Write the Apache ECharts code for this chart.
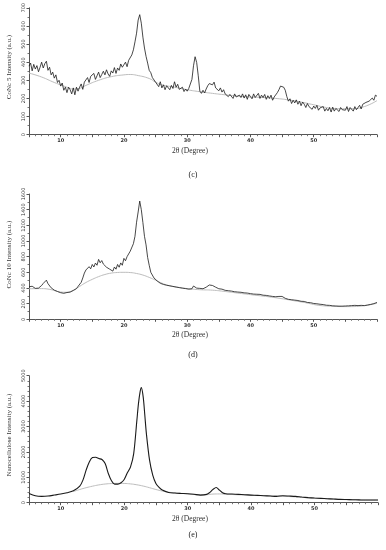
<!DOCTYPE html>
<html><head><meta charset="utf-8">
<script src="https://cdn.jsdelivr.net/npm/echarts@6/dist/echarts.min.js"></script>
<style>html,body{margin:0;padding:0;background:#fff}#c{width:386px;height:550px}</style>
</head><body><div id="c"></div>
<script>
// ---- data ----
// Panels (c) and (d): intensities sampled every 0.25 degree from 2θ = 5 to 60
const stepCD = 0.25, startCD = 5;
const conc5 = [
378,395,352,388, 362,381,347,372, 400,368,392,405, 355,372,330,345, 312,330,288,300,
268,285,245,262, 232,262,248,225, 258,220,262,240, 262,280,250,290, 295,315,288,322,
312,338,305,325, 345,315,332,350, 330,358,335,322, 352,340,370,338, 368,355,390,372,
380,400,375,410, 418,440,468,512, 560,632,662,615, 538,478,432,395, 355,342,315,325,
290,282,265,292, 258,275,248,270, 262,248,272,255, 292,262,278,250, 245,262,238,252,
240,255,250,305, 380,430,398,325, 240,228,245,230, 252,270,282,292, 275,290,258,268,
242,258,235,248, 225,235,210,222, 215,200,225,208, 198,218,205,225, 202,220,195,222,
210,198,225,205, 212,228,200,218, 205,222,195,215, 200,218,190,208, 215,232,248,268,
278,262,245,210, 185,198,172,190, 175,192,168,185, 160,180,168,150, 172,155,165,140,
158,145,162,135, 148,138,155,130, 145,132,150,125, 152,130,145,135, 128,150,138,145,
135,155,128,150, 140,130,155,138, 150,162,142,168, 160,178,168,185, 180,202,190,218,
212];
const conc10 = [
415,392,422,400, 395,412,398,420, 432,458,470,500, 455,430,402,395, 372,382,355,362,
340,350,332,345, 342,356,348,360, 368,385,392,420, 445,472,528,590, 630,605,672,645,
700,668,718,690, 765,722,750,705, 712,665,690,640, 655,615,668,640, 700,665,720,690,
778,748,800,790, 870,855,965,1060, 1240,1370,1510,1400, 1235,1060,950,790, 690,600,575,528,
518,490,482,460, 470,445,462,435, 450,428,445,420, 438,412,430,405, 420,398,415,392,
405,385,398,390, 425,402,398,380, 395,372,390,385, 410,420,438,415, 432,408,410,388,
390,370,385,362, 370,348,365,345, 360,338,352,335, 348,330,345,325, 338,318,335,315,
328,308,322,310, 320,300,318,295, 308,292,305,288, 298,280,292,275, 288,272,292,280,
292,275,268,255, 255,240,250,232, 245,228,240,222, 230,215,228,210, 215,200,212,195,
202,185,198,182, 192,175,188,172, 180,165,178,162, 172,158,170,155, 168,155,168,158,
170,158,172,162, 175,162,178,165, 175,162,178,168, 175,165,182,178, 190,182,200,198,
215];
// Panel (e): nanocellulose
const xNano = [5,6,7,8,9,10,11,12,13,13.5,14,14.5,15,15.5,16,16.5,17,17.5,18,18.5,19,19.5,20,20.5,21,21.5,22,22.25,22.5,22.7,23,23.25,23.5,24,24.5,25,25.5,26,27,28,29,30,31,32,33,33.5,34,34.5,35,35.5,36,37,38,39,40,41,42,43,44,45,46,47,48,49,50,51,52,53,54,55,56,57,58,59,60];
const yNano = [366,274,250,262,300,340,392,470,653,888,1280,1607,1777,1790,1738,1700,1542,1150,862,732,732,784,915,1176,1411,1934,3241,3900,4352,4530,4156,3450,2718,1673,1085,758,600,497,405,379,365,353,330,300,327,405,523,601,497,392,353,340,327,313,300,287,274,261,248,274,262,248,222,200,183,170,157,144,131,124,118,112,105,105,105];
// Amorphous baselines (grey curves)
const xBaseC = [5,7,9,11,12,13,14,16,18,20,21,22,24,25,26,28,30,32,34,36,38,40,42,44,46,48,50,52,54,56,58,60];
const yBaseC = [340,318,288,262,252,256,272,300,320,330,332,328,310,290,275,262,248,237,228,220,213,208,205,200,192,180,165,150,143,143,155,188];
const xBaseD = [5,7,8,9,10,11,12,13,14,15,16,17,18,19,20,21,22,23,24,25,26,27,28,30,32,34,36,38,40,44,48,52,56,60];
const yBaseD = [390,392,386,368,348,345,370,420,470,510,545,572,590,598,600,597,585,565,535,500,462,432,415,392,378,372,355,335,315,275,222,170,162,205];
const xBaseE = [12,13,14,15,16,17,18,19,20,21,22,23,24,25,26,27,28,30,32,33,34,35,36,40,45,50,55,60];
const yBaseE = [440,520,590,650,700,735,755,762,758,740,705,655,590,520,460,415,385,350,310,315,340,345,335,290,255,180,118,100];
// axis settings
const xMin = 5, xMax = 60;
const yMaxC = 700, yStepC = 100;
const yMaxD = 1600, yStepD = 200;
const yMaxE = 5000, yStepE = 1000;
const yNames = ['CoNc 5 Intensity (a.u.)', 'CoNc 10 Intensity (a.u.)', 'Nanocellulose Intensity (a.u.)'];
const panelTags = ['(c)', '(d)', '(e)'];
const xName = '2θ (Degree)';

// ---- build ----
function evenPairs(vals){ return vals.map((v,i)=>[startCD + i*stepCD, v]); }
function zip(xs, ys){ return xs.map((x,i)=>[x, ys[i]]); }

const grids = [
  {left:29, top:4.5, width:348, height:130.2},
  {left:29, top:194, width:348, height:125.3},
  {left:29, top:375.7, width:349, height:127}
];
const axisCol = '#555';
function mkX(i){
  return {gridIndex:i, type:'value', min:xMin, max:xMax, interval:5,
    axisLine:{lineStyle:{color:axisCol, width:1}},
    axisTick:{show:true, length:2.5, lineStyle:{color:axisCol}},
    minorTick:{show:true, splitNumber:5, length:1.5, lineStyle:{color:'#777'}},
    splitLine:{show:false},
    axisLabel:{fontSize:5, color:'#333', margin:4, fontFamily:'DejaVu Sans', fontWeight:'bold',
      formatter:v => (v % 10 === 0 && v < 60) ? String(v) : ''}};
}
function mkY(i, max, step, minorN){
  return {gridIndex:i, type:'value', min:0, max:max, interval:step,
    axisLine:{show:true, lineStyle:{color:axisCol, width:1}},
    axisTick:{show:true, length:2.5, lineStyle:{color:axisCol}},
    minorTick:{show:true, splitNumber:minorN, length:1.5, lineStyle:{color:'#777'}},
    splitLine:{show:false},
    axisLabel:{fontSize:5, color:'#333', margin:3, rotate:90, fontFamily:'DejaVu Sans',
      formatter:v => String(v)}};
}
const dataLine = {color:'#1a1a1a', width:0.8};
const baseLine = {color:'#bdbdbd', width:1};
const series = [
  {type:'line', xAxisIndex:0, yAxisIndex:0, data:zip(xBaseC,yBaseC), smooth:true, showSymbol:false, lineStyle:baseLine, z:1},
  {type:'line', xAxisIndex:0, yAxisIndex:0, data:evenPairs(conc5), showSymbol:false, lineStyle:dataLine, z:2},
  {type:'line', xAxisIndex:1, yAxisIndex:1, data:zip(xBaseD,yBaseD), smooth:true, showSymbol:false, lineStyle:baseLine, z:1},
  {type:'line', xAxisIndex:1, yAxisIndex:1, data:evenPairs(conc10), showSymbol:false, lineStyle:dataLine, z:2},
  {type:'line', xAxisIndex:2, yAxisIndex:2, data:zip(xBaseE,yBaseE), smooth:true, showSymbol:false, lineStyle:baseLine, z:1},
  {type:'line', xAxisIndex:2, yAxisIndex:2, data:zip(xNano,yNano), smooth:0.3, showSymbol:false, lineStyle:{color:'#1a1a1a', width:1.1}, z:2}
];
const serif = '"Liberation Serif", "DejaVu Serif", serif';
const yNameCenters = [67, 254.5, 435];
const xNameY = [151, 335.5, 519.5];
const tagY = [175, 354.5, 534.5];
const graphics = [];
for (let i=0;i<3;i++){
  graphics.push({type:'text', x:9, y:yNameCenters[i], rotation:Math.PI/2,
    style:{text:yNames[i], font:'7px '+serif, fill:'#333', align:'center', verticalAlign:'middle'}});
  graphics.push({type:'text', x:190, y:xNameY[i],
    style:{text:xName, font:'7.5px '+serif, fill:'#333', align:'center', verticalAlign:'middle'}});
  graphics.push({type:'text', x:193, y:tagY[i],
    style:{text:panelTags[i], font:'8px '+serif, fill:'#222', align:'center', verticalAlign:'middle'}});
}
const chart = echarts.init(document.getElementById('c'), null, {renderer:'canvas'});
chart.setOption({
  animation:false, backgroundColor:'#fff',
  grid:grids,
  xAxis:[mkX(0), mkX(1), mkX(2)],
  yAxis:[mkY(0,yMaxC,yStepC,2), mkY(1,yMaxD,yStepD,2), mkY(2,yMaxE,yStepE,5)],
  series:series,
  graphic:graphics
});
</script></body></html>
